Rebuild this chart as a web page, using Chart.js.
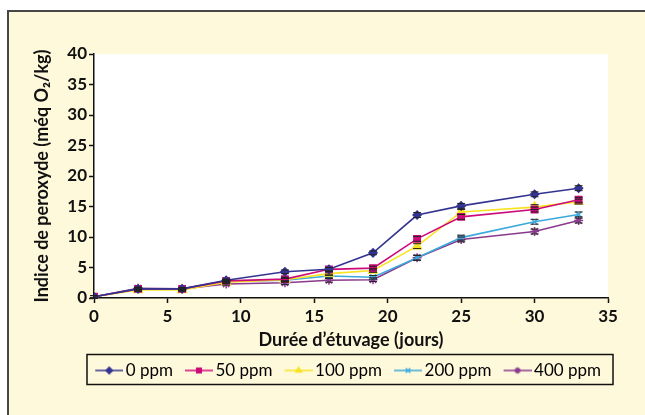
<!DOCTYPE html>
<html>
<head>
<meta charset="utf-8">
<script src="https://cdn.jsdelivr.net/npm/chart.js@4.4.1/dist/chart.umd.min.js"></script>
<style>
  html, body { margin: 0; padding: 0; background: #ffffff; }
  #wrap { position: relative; width: 645px; height: 415px; }
</style>
</head>
<body>
<div id="wrap"><canvas id="c" width="645" height="415"></canvas></div>
<script>
// ---- Data ----
const days = [0, 3, 6, 9, 13, 16, 19, 22, 25, 30, 33];
const ppm0   = [0.2, 1.5, 1.5, 2.9, 4.3, 4.7, 7.4, 13.6, 15.1, 17.0, 18.0];
const ppm50  = [0.2, 1.5, 1.5, 2.8, 3.1, 4.7, 4.9, 9.7, 13.3, 14.5, 16.1];
const ppm100 = [0.2, 1.3, 1.3, 2.6, 3.0, 4.0, 4.5, 8.5, 14.1, 14.9, 15.8];
const ppm200 = [0.2, 1.5, 1.5, 2.7, 2.9, 3.6, 3.4, 6.6, 9.9, 12.5, 13.7];
const ppm400 = [0.2, 1.6, 1.5, 2.3, 2.5, 2.9, 3.0, 6.6, 9.6, 10.9, 12.7];
const errSmall = [0.2, 0.2, 0.2, 0.2, 0.3, 0.3, 0.3, 0.4, 0.4, 0.4, 0.4];
const seriesNames = ['0 ppm', '50 ppm', '100 ppm', '200 ppm', '400 ppm'];
const xTicks = [0, 5, 10, 15, 20, 25, 30, 35];
const yTicks = [0, 5, 10, 15, 20, 25, 30, 35, 40];

const seriesValues = [ppm0, ppm50, ppm100, ppm200, ppm400];
const colors = ['#333391', '#cc0a7a', '#f7e322', '#3aa9dc', '#8a3a8c'];
const styles = ['rectRot', 'rect', 'triangle', 'crossRot', 'star'];
const radii  = [4, 4.5, 5, 4, 4.5];

const FONT = 'Lato, "Open Sans", sans-serif';
const CREAM = '#fff9db';
const BOXW = 22;

function legendIcon(i) {
  const cv = document.createElement('canvas');
  cv.width = BOXW + 12; cv.height = 12;
  const ctx = cv.getContext('2d');
  ctx.strokeStyle = colors[i];
  ctx.lineWidth = 1.5;
  ctx.beginPath(); ctx.moveTo(6, 6); ctx.lineTo(BOXW + 12, 6); ctx.stroke();
  ctx.fillStyle = colors[i];
  Chart.helpers.drawPoint(ctx, {pointStyle: styles[i], radius: 3.2, rotation: 0, borderWidth: 1.5}, 6 + (BOXW + 6) / 2, 6);
  ctx.fill();
  return cv;
}

const datasets = seriesValues.map((vals, i) => ({
  label: seriesNames[i],
  data: days.map((d, k) => ({x: d, y: vals[k]})),
  borderColor: colors[i],
  backgroundColor: colors[i],
  borderWidth: 1.6,
  pointStyle: styles[i],
  pointRadius: radii[i],
  pointBorderWidth: 1.5,
  pointBorderColor: colors[i],
  pointBackgroundColor: colors[i],
  tension: 0,
  fill: false
}));

const bgPlugin = {
  id: 'bg',
  afterLayout(chart) {
    if (chart.legend) { chart.legend.left += 5; chart.legend.right += 5; }
  },
  beforeDraw(chart) {
    const ctx = chart.ctx, a = chart.chartArea;
    ctx.save();
    ctx.fillStyle = '#ffffff';
    ctx.fillRect(0, 0, chart.width, chart.height);
    ctx.fillStyle = CREAM;
    ctx.fillRect(8, 11, chart.width - 8, chart.height - 11);
    ctx.strokeStyle = '#474747';
    ctx.lineWidth = 2;
    ctx.beginPath();
    ctx.moveTo(8, chart.height); ctx.lineTo(8, 11); ctx.lineTo(chart.width, 11);
    ctx.stroke();
    ctx.fillStyle = '#ffffff';
    ctx.fillRect(a.left, a.top, a.right - a.left, a.bottom - a.top);
    ctx.restore();
  },
  afterDraw(chart) {
    const ctx = chart.ctx;
    ctx.save();
    ctx.strokeStyle = '#111';
    ctx.lineWidth = 1.5;
    ctx.strokeRect(87, 354.5, 526, 30);
    ctx.restore();
  }
};

const errPlugin = {
  id: 'errbars',
  afterDatasetsDraw(chart) {
    const ctx = chart.ctx, ys = chart.scales.y, xs = chart.scales.x;
    ctx.save();
    ctx.strokeStyle = '#222';
    ctx.lineWidth = 1;
    seriesValues.forEach(vals => {
      vals.forEach((v, k) => {
        const px = xs.getPixelForValue(days[k]);
        const top = ys.getPixelForValue(v + errSmall[k]);
        const bot = ys.getPixelForValue(v - errSmall[k]);
        ctx.beginPath();
        ctx.moveTo(px - 4, top); ctx.lineTo(px + 4, top);
        ctx.moveTo(px - 4, bot); ctx.lineTo(px + 4, bot);
        ctx.stroke();
      });
    });
    ctx.restore();
  }
};

new Chart(document.getElementById('c'), {
  type: 'line',
  data: { datasets },
  plugins: [bgPlugin, errPlugin],
  options: {
    responsive: false,
    animation: false,
    layout: { padding: { left: 7, right: 37, top: 54, bottom: 26 } },
    plugins: {
      tooltip: { enabled: false },
      legend: {
        position: 'bottom',
        align: 'end',
        labels: {
          color: '#111',
          font: { family: FONT, size: 17 },
          usePointStyle: true,
          pointStyleWidth: BOXW,
          padding: 12,
          generateLabels(chart) {
            return seriesNames.map((n, i) => ({
              text: n, datasetIndex: i, pointStyle: legendIcon(i),
              fillStyle: colors[i], strokeStyle: colors[i], lineWidth: 0, hidden: false
            }));
          }
        }
      }
    },
    scales: {
      x: {
        type: 'linear', min: 0, max: 35,
        afterBuildTicks(s) { s.ticks = xTicks.map(v => ({value: v})); },
        afterFit(s) { s.height = 52; },
        border: { color: '#111', width: 1.5 },
        grid: { drawOnChartArea: false, tickLength: 5, color: '#111', tickWidth: 1.5 },
        ticks: { color: '#111', font: { family: FONT, size: 17, weight: 'bold' }, padding: 3, maxRotation: 0 },
        title: { display: true, text: 'Durée d’étuvage (jours)', color: '#111',
                 font: { family: FONT, size: 18, weight: 'bold' }, padding: { top: 0, bottom: -1 } }
      },
      y: {
        type: 'linear', min: 0, max: 40,
        afterBuildTicks(s) { s.ticks = yTicks.map(v => ({value: v})); },
        afterFit(s) { s.width = 87; },
        border: { color: '#111', width: 1.5 },
        grid: { drawOnChartArea: false, tickLength: 5, color: '#111', tickWidth: 1.5 },
        ticks: { color: '#111', font: { family: FONT, size: 17, weight: 'bold' }, padding: 2 },
        title: { display: true, text: 'Indice de peroxyde (méq O₂/kg)', color: '#111',
                 font: { family: FONT, size: 18, weight: 'bold' }, padding: { top: 24, bottom: 0 } }
      }
    }
  }
});
</script>
</body>
</html>
